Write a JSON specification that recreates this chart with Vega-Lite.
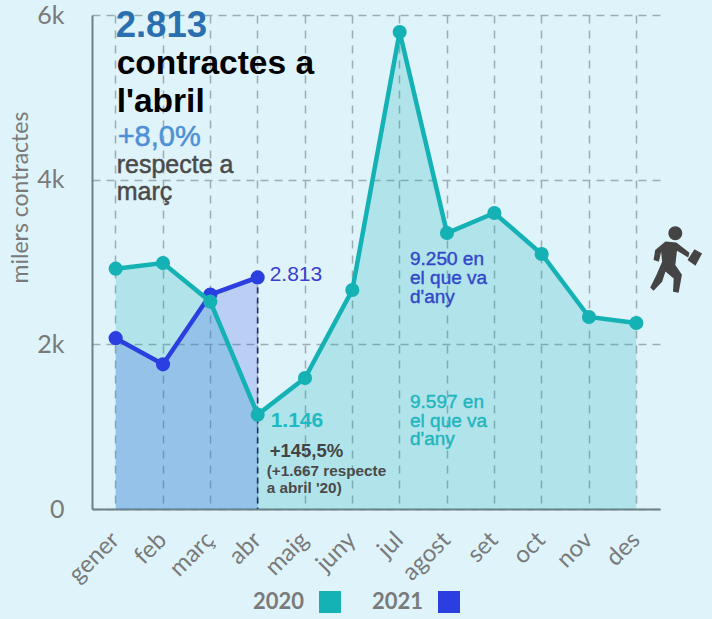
{
"$schema":"https://vega.github.io/schema/vega-lite/v6.json",
"width":568,"height":494,
"autosize":"none",
"padding":{"left":92,"top":15,"right":52,"bottom":110},
"background":"#dff3fa",
"config":{"view":{"stroke":null},"font":"Lato"},
"data":{"values":[
{"month":"gener","year":"2020","contracts":2919},
{"month":"feb","year":"2020","contracts":2987},
{"month":"març","year":"2020","contracts":2518},
{"month":"abr","year":"2020","contracts":1146},
{"month":"maig","year":"2020","contracts":1590},
{"month":"juny","year":"2020","contracts":2660},
{"month":"jul","year":"2020","contracts":5794},
{"month":"agost","year":"2020","contracts":3352},
{"month":"set","year":"2020","contracts":3595},
{"month":"oct","year":"2020","contracts":3097},
{"month":"nov","year":"2020","contracts":2332},
{"month":"des","year":"2020","contracts":2259},
{"month":"gener","year":"2021","contracts":2075},
{"month":"feb","year":"2021","contracts":1757},
{"month":"març","year":"2021","contracts":2605},
{"month":"abr","year":"2021","contracts":2813}
]},
"encoding":{
"x":{"field":"month","type":"nominal","title":null,"sort":null,
"scale":{"domain":["gener","feb","març","abr","maig","juny","jul","agost","set","oct","nov","des"]},
"axis":{"labelAngle":-45,"labelAlign":"right","labelBaseline":"middle","labelFontSize":24,"labelColor":"#7a7a7a","labelPadding":27,"ticks":false,"grid":true,"gridDash":[8,7],"gridColor":"#9aadb4","gridWidth":1.5,"domainColor":"#6f8086","domainWidth":2,"labelOverlap":false}},
"y":{"field":"contracts","type":"quantitative","title":"milers contractes",
"scale":{"domain":[0,6000]},
"axis":{"values":[0,2000,4000,6000],"labelExpr":"datum.value==0?'0':(datum.value/1000)+'k'","labelFontSize":25,"labelColor":"#7a7a7a","labelPadding":28,"ticks":false,"grid":true,"gridDash":[8,6],"gridColor":"#9aadb4","gridWidth":1.5,"domainColor":"#6f8086","domainWidth":2,"titleFontSize":23,"titleFontWeight":"normal","titleColor":"#7a7a7a","titleX":-60,"titleY":182}},
"color":{"field":"year","type":"nominal","scale":{"domain":["2020","2021"],"range":["#14b1b5","#2b3fe0"]},
"legend":{"title":null,"orient":"none","legendX":227,"legendY":576,"direction":"horizontal","symbolType":"square","symbolSize":484,"symbolOpacity":1,"symbolStrokeWidth":0,"labelFontSize":22,"labelFontWeight":"bold","labelColor":"#7a7a7a","labelOffset":-88,"columnPadding":31}}
},
"layer":[
{"transform":[{"filter":"datum.year=='2020'"}],"mark":{"type":"area","opacity":0.23,"interpolate":"linear"}},
{"transform":[{"filter":"datum.year=='2021'"}],"mark":{"type":"area","opacity":0.2,"interpolate":"linear"}},
{"transform":[{"filter":"datum.year=='2021' && datum.month=='abr'"}],"mark":{"type":"rule","strokeDash":[6,4],"strokeWidth":1.6},"encoding":{"color":{"value":"#1f2f6b"},"y2":{"datum":0}}},
{"transform":[{"filter":"datum.year=='2021'"}],"mark":{"type":"line","strokeWidth":4.5}},
{"transform":[{"filter":"datum.year=='2021'"}],"mark":{"type":"circle","size":200,"opacity":1}},
{"transform":[{"filter":"datum.year=='2020'"}],"mark":{"type":"line","strokeWidth":4.5}},
{"transform":[{"filter":"datum.year=='2020'"}],"mark":{"type":"circle","size":200,"opacity":1}},
{"data":{"values":[{"month":"gener","contracts":5733,"label":"2.813"}]},"mark":{"type":"text","align":"left","baseline":"alphabetic","font":"Liberation Sans","fontWeight":"bold","fontSize":36.5,"dx":0},"encoding":{"text":{"field":"label"},"color":{"value":"#2a6fb0"}}},
{"data":{"values":[{"month":"gener","contracts":5283,"label":"contractes a"},{"month":"gener","contracts":4821,"label":"l'abril"}]},"mark":{"type":"text","align":"left","baseline":"alphabetic","font":"Liberation Sans","fontWeight":"bold","fontSize":33.5,"dx":1},"encoding":{"text":{"field":"label"},"color":{"value":"#000000"}}},
{"data":{"values":[{"month":"gener","contracts":4410,"label":"+8,0%"}]},"mark":{"type":"text","align":"left","baseline":"alphabetic","font":"Liberation Sans","fontSize":29,"stroke":"#4d90d6","strokeWidth":0.5,"dx":2},"encoding":{"text":{"field":"label"},"color":{"value":"#4d90d6"}}},
{"data":{"values":[{"month":"gener","contracts":4080,"label":"respecte a"},{"month":"gener","contracts":3753,"label":"març"}]},"mark":{"type":"text","align":"left","baseline":"alphabetic","font":"Liberation Sans","fontSize":25,"stroke":"#4a4a4a","strokeWidth":0.5,"dx":1},"encoding":{"text":{"field":"label"},"color":{"value":"#4a4a4a"}}},
{"data":{"values":[{"month":"abr","contracts":2770,"label":"2.813"}]},"mark":{"type":"text","align":"left","baseline":"alphabetic","font":"Liberation Sans","fontSize":21,"dx":12},"encoding":{"text":{"field":"label"},"color":{"value":"#3a3fd0"}}},
{"data":{"values":[{"month":"abr","contracts":996,"label":"1.146"}]},"mark":{"type":"text","align":"left","baseline":"alphabetic","font":"Liberation Sans","fontWeight":"bold","fontSize":21,"dx":13},"encoding":{"text":{"field":"label"},"color":{"value":"#1ebac2"}}},
{"data":{"values":[{"month":"abr","contracts":632,"label":"+145,5%"}]},"mark":{"type":"text","align":"left","baseline":"alphabetic","font":"Liberation Sans","fontWeight":"bold","fontSize":18.5,"dx":12},"encoding":{"text":{"field":"label"},"color":{"value":"#444444"}}},
{"data":{"values":[{"month":"abr","contracts":400,"label":"(+1.667 respecte"},{"month":"abr","contracts":194,"label":"a abril '20)"}]},"mark":{"type":"text","align":"left","baseline":"alphabetic","font":"Liberation Sans","fontWeight":"bold","fontSize":15.3,"dx":9},"encoding":{"text":{"field":"label"},"color":{"value":"#4a4a4a"}}},
{"data":{"values":[{"month":"agost","contracts":2964,"label":"9.250 en"},{"month":"agost","contracts":2733,"label":"el que va"},{"month":"agost","contracts":2502,"label":"d'any"}]},"mark":{"type":"text","align":"left","baseline":"alphabetic","font":"Liberation Sans","fontSize":19,"stroke":"#3048c8","strokeWidth":0.4,"dx":-37},"encoding":{"text":{"field":"label"},"color":{"value":"#3048c8"}}},
{"data":{"values":[{"month":"agost","contracts":1227,"label":"9.597 en"},{"month":"agost","contracts":996,"label":"el que va"},{"month":"agost","contracts":777,"label":"d'any"}]},"mark":{"type":"text","align":"left","baseline":"alphabetic","font":"Liberation Sans","fontSize":19,"stroke":"#1fb5bd","strokeWidth":0.4,"dx":-37},"encoding":{"text":{"field":"label"},"color":{"value":"#1fb5bd"}}},
{"data":{"values":[{"month":"des","contracts":3024}]},"mark":{"type":"point","filled":true,"opacity":1,"size":4356,"xOffset":39,"shape":"M-0.21,-0.81A0.21,0.21 0 1 1 0.21,-0.81A0.21,0.21 0 1 1 -0.21,-0.81ZM-0.30,-0.56L0.03,-0.53L0.43,-0.22L0.39,-0.08L0.05,-0.28L0,0.15L0.2,0.45L0.10,0.99L-0.07,0.96L-0.05,0.56L-0.30,0.35L-0.40,0.66L-0.66,0.93L-0.76,0.83L-0.57,0.45L-0.40,0.05L-0.43,-0.25L-0.50,0.05L-0.66,0L-0.61,-0.30ZM0.58,-0.33L0.81,-0.2L0.61,0.17L0.37,0Z"},"encoding":{"color":{"value":"#444444"}}}
]
}
